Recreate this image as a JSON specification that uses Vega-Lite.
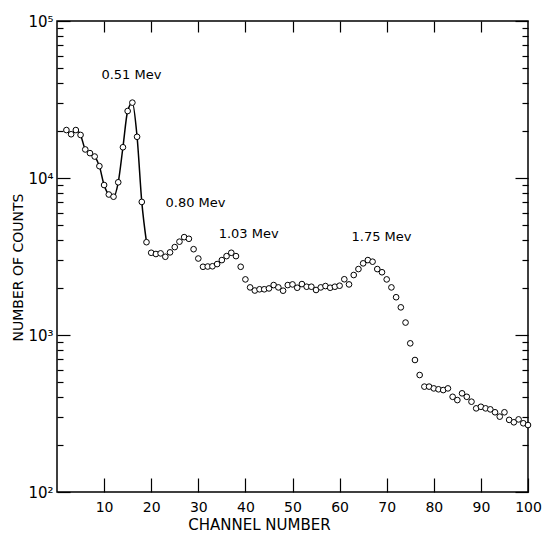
{
  "$schema": "https://vega.github.io/schema/vega-lite/v6.json",
  "width": 471,
  "height": 471,
  "autosize": "none",
  "padding": {"left": 57, "top": 21, "right": 17, "bottom": 41},
  "background": "white",
  "config": {
    "font": "DejaVu Sans",
    "view": {"stroke": "black", "strokeWidth": 1.5},
    "axis": {"grid": false, "domain": false, "tickColor": "black", "tickWidth": 1.2, "labelColor": "black", "titleColor": "black", "labelFont": "DejaVu Sans", "titleFont": "DejaVu Sans", "titleFontWeight": "normal"}
  },
  "datasets": {
    "counts": [
      {"channel": 2, "counts": 20200}, {"channel": 3, "counts": 19000}, {"channel": 4, "counts": 20200},
      {"channel": 5, "counts": 18800}, {"channel": 6, "counts": 15200}, {"channel": 7, "counts": 14400},
      {"channel": 8, "counts": 13700}, {"channel": 9, "counts": 11900}, {"channel": 10, "counts": 9020},
      {"channel": 11, "counts": 7850}, {"channel": 12, "counts": 7600}, {"channel": 13, "counts": 9390},
      {"channel": 14, "counts": 15700}, {"channel": 15, "counts": 26700}, {"channel": 16, "counts": 30200},
      {"channel": 17, "counts": 18300}, {"channel": 18, "counts": 7040}, {"channel": 19, "counts": 3900},
      {"channel": 20, "counts": 3340}, {"channel": 21, "counts": 3280}, {"channel": 22, "counts": 3310},
      {"channel": 23, "counts": 3150}, {"channel": 24, "counts": 3360}, {"channel": 25, "counts": 3630},
      {"channel": 26, "counts": 3930}, {"channel": 27, "counts": 4200}, {"channel": 28, "counts": 4100},
      {"channel": 29, "counts": 3520}, {"channel": 30, "counts": 3070}, {"channel": 31, "counts": 2720},
      {"channel": 32, "counts": 2730}, {"channel": 33, "counts": 2740}, {"channel": 34, "counts": 2830},
      {"channel": 35, "counts": 3000}, {"channel": 36, "counts": 3180}, {"channel": 37, "counts": 3340},
      {"channel": 38, "counts": 3180}, {"channel": 39, "counts": 2720}, {"channel": 40, "counts": 2260},
      {"channel": 41, "counts": 2010}, {"channel": 42, "counts": 1920}, {"channel": 43, "counts": 1955},
      {"channel": 44, "counts": 1955}, {"channel": 45, "counts": 1980}, {"channel": 46, "counts": 2080},
      {"channel": 47, "counts": 2010}, {"channel": 48, "counts": 1915}, {"channel": 49, "counts": 2080},
      {"channel": 50, "counts": 2100}, {"channel": 51, "counts": 2000}, {"channel": 52, "counts": 2110},
      {"channel": 53, "counts": 2030}, {"channel": 54, "counts": 2030}, {"channel": 55, "counts": 1935},
      {"channel": 56, "counts": 2010}, {"channel": 57, "counts": 2050}, {"channel": 58, "counts": 2000},
      {"channel": 59, "counts": 2030}, {"channel": 60, "counts": 2060}, {"channel": 61, "counts": 2265},
      {"channel": 62, "counts": 2100}, {"channel": 63, "counts": 2410}, {"channel": 64, "counts": 2630},
      {"channel": 65, "counts": 2860}, {"channel": 66, "counts": 3000}, {"channel": 67, "counts": 2930},
      {"channel": 68, "counts": 2630}, {"channel": 69, "counts": 2510}, {"channel": 70, "counts": 2260},
      {"channel": 71, "counts": 2010}, {"channel": 72, "counts": 1740}, {"channel": 73, "counts": 1500},
      {"channel": 74, "counts": 1200}, {"channel": 75, "counts": 885}, {"channel": 76, "counts": 693},
      {"channel": 77, "counts": 556}, {"channel": 78, "counts": 469}, {"channel": 79, "counts": 469},
      {"channel": 80, "counts": 457}, {"channel": 81, "counts": 451}, {"channel": 82, "counts": 446},
      {"channel": 83, "counts": 457}, {"channel": 84, "counts": 404}, {"channel": 85, "counts": 385},
      {"channel": 86, "counts": 425}, {"channel": 87, "counts": 404}, {"channel": 88, "counts": 376},
      {"channel": 89, "counts": 341}, {"channel": 90, "counts": 349}, {"channel": 91, "counts": 341},
      {"channel": 92, "counts": 336}, {"channel": 93, "counts": 322}, {"channel": 94, "counts": 302},
      {"channel": 95, "counts": 322}, {"channel": 96, "counts": 288}, {"channel": 97, "counts": 278},
      {"channel": 98, "counts": 290}, {"channel": 99, "counts": 274}, {"channel": 100, "counts": 267}
    ],
    "peaks": [
      {"channel": 15.8, "counts": 45300, "label": "0.51 Mev"},
      {"channel": 29.4, "counts": 6930, "label": "0.80 Mev"},
      {"channel": 40.7, "counts": 4400, "label": "1.03 Mev"},
      {"channel": 68.9, "counts": 4210, "label": "1.75 Mev"}
    ]
  },
  "layer": [
    {
      "data": {"name": "counts"},
      "transform": [{"filter": "datum.channel <= 19"}],
      "mark": {"type": "line", "color": "black", "strokeWidth": 1.5, "interpolate": "monotone"},
      "encoding": {
        "x": {"field": "channel", "type": "quantitative", "scale": {"domain": [0, 100], "nice": false, "zero": false},
          "axis": {"orient": "bottom", "values": [10, 20, 30, 40, 50, 60, 70, 80, 90, 100], "tickSize": -14, "labelPadding": 22, "labelFontSize": 14, "labelFlush": false,
            "title": "CHANNEL NUMBER", "titleFontSize": 15, "titleX": 202, "titleY": 25, "titleAnchor": null}},
        "y": {"field": "counts", "type": "quantitative", "scale": {"type": "log", "domain": [100, 100000], "nice": false},
          "axis": {"orient": "left",
            "values": [100, 200, 300, 400, 500, 600, 700, 800, 900, 1000, 2000, 3000, 4000, 5000, 6000, 7000, 8000, 9000, 10000, 20000, 30000, 40000, 50000, 60000, 70000, 80000, 90000, 100000],
            "tickSize": {"condition": {"test": "indexof([100, 1000, 10000, 100000], datum.value) >= 0", "value": -13}, "value": -6},
            "labelPadding": 17, "labelFontSize": 15, "labelFlush": false, "labelBaseline": "middle",
            "labelExpr": "datum.value == 100 ? '10²' : datum.value == 1000 ? '10³' : datum.value == 10000 ? '10⁴' : datum.value == 100000 ? '10⁵' : ''",
            "title": "NUMBER OF COUNTS", "titleFontSize": 14, "titleAngle": -90, "titleX": -39, "titleY": 246, "titleBaseline": "middle", "titleAlign": "center"}}
      }
    },
    {
      "data": {"name": "counts"},
      "mark": {"type": "point", "shape": "circle", "filled": false, "fill": "white", "fillOpacity": 1, "stroke": "black", "strokeWidth": 1, "size": 32, "opacity": 1},
      "encoding": {
        "x": {"field": "channel", "type": "quantitative", "scale": {"domain": [0, 100], "nice": false, "zero": false},
          "axis": {"orient": "top", "values": [10, 20, 30, 40, 50, 60, 70, 80, 90], "tickSize": -11, "labels": false, "title": null}},
        "y": {"field": "counts", "type": "quantitative", "scale": {"type": "log", "domain": [100, 100000], "nice": false},
          "axis": {"orient": "right",
            "values": [100, 200, 300, 400, 500, 600, 700, 800, 900, 1000, 2000, 3000, 4000, 5000, 6000, 7000, 8000, 9000, 10000, 20000, 30000, 40000, 50000, 60000, 70000, 80000, 90000, 100000],
            "tickSize": {"condition": {"test": "indexof([100, 1000, 10000, 100000], datum.value) >= 0", "value": -13}, "value": -6},
            "labels": false, "title": null}}
      }
    },
    {
      "data": {"name": "peaks"},
      "mark": {"type": "text", "font": "DejaVu Sans", "fontSize": 13, "color": "black", "align": "center", "baseline": "middle"},
      "encoding": {
        "x": {"field": "channel", "type": "quantitative", "scale": {"domain": [0, 100], "nice": false, "zero": false}, "axis": null},
        "y": {"field": "counts", "type": "quantitative", "scale": {"type": "log", "domain": [100, 100000], "nice": false}, "axis": null},
        "text": {"field": "label"}
      }
    }
  ],
  "resolve": {"axis": {"x": "independent", "y": "independent"}}
}
